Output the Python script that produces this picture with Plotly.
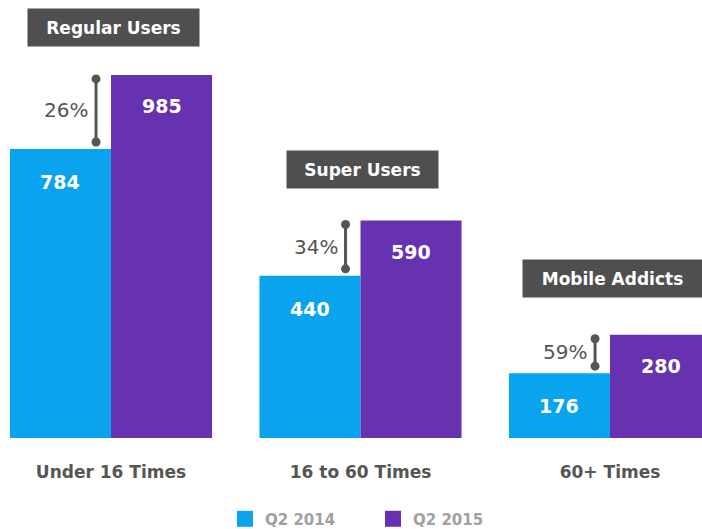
import plotly.graph_objects as go

categories = ["Under 16 Times", "16 to 60 Times", "60+ Times"]
group_labels = ["Regular Users", "Super Users", "Mobile Addicts"]
q2_2014 = [784, 440, 176]
q2_2015 = [985, 590, 280]
growth = ["26%", "34%", "59%"]
series_names = ["Q2 2014", "Q2 2015"]

BLUE = "#0AA3EE"
PURPLE = "#6632B0"
DARK = "#4F4F4F"
GRAY_TXT = "#555555"
FONT = "DejaVu Sans"

x = list(range(len(categories)))
fig = go.Figure()
fig.add_trace(go.Bar(x=x, y=q2_2014, marker=dict(color=BLUE, line=dict(width=0)),
                     name=series_names[0], showlegend=False))
fig.add_trace(go.Bar(x=x, y=q2_2015, marker=dict(color=PURPLE, line=dict(width=0)),
                     name=series_names[1], showlegend=False))

# legend proxies
for nm, col in zip(series_names, [BLUE, PURPLE]):
    fig.add_trace(go.Scatter(x=[None], y=[None], mode="markers", name=nm,
                             marker=dict(symbol="square", size=16, color=col)))

px_per_unit = 0.3686
for i in x:
    lo = q2_2014[i] + 7 / px_per_unit
    hi = q2_2015[i] - 4 / px_per_unit
    fig.add_trace(go.Scatter(x=[i - 0.06, i - 0.06], y=[lo, hi], mode="lines+markers",
                             line=dict(color=GRAY_TXT, width=3),
                             marker=dict(size=9, color=GRAY_TXT), showlegend=False,
                             hoverinfo="skip"))
    fig.add_annotation(x=i - 0.06, y=(lo + hi) / 2, text=growth[i], showarrow=False,
                       xanchor="right", yanchor="middle", xshift=-6,
                       font=dict(family=FONT, size=20, color=GRAY_TXT))
    fig.add_annotation(x=i - 0.2025, y=q2_2014[i], text=str(q2_2014[i]), showarrow=False,
                       yanchor="middle", yshift=-33,
                       font=dict(family=FONT, size=19, color="white", weight="bold"))
    fig.add_annotation(x=i + 0.2025, y=q2_2015[i], text=str(q2_2015[i]), showarrow=False,
                       yanchor="middle", yshift=-31,
                       font=dict(family=FONT, size=19, color="white", weight="bold"))

box_gaps = [47, 51, 56]
box_widths = [171, 151, 179]
for i in x:
    fig.add_annotation(x=i, y=q2_2015[i], text=group_labels[i], showarrow=False,
                       yanchor="middle", yshift=box_gaps[i], xshift=2,
                       bgcolor=DARK, borderpad=0, width=box_widths[i], height=37,
                       font=dict(family=FONT, size=17, color="white", weight="bold"))

fig.update_layout(
    width=702, height=529,
    margin=dict(l=0, r=0, t=0, b=91, autoexpand=False),
    paper_bgcolor="white", plot_bgcolor="white",
    barmode="group", bargap=0.19, bargroupgap=0,
    xaxis=dict(range=[-0.4449, 2.3687], tickvals=x, ticktext=categories,
               showgrid=False, zeroline=False, showline=False, ticks="",
               ticklabelstandoff=22, automargin=False,
               tickfont=dict(family=FONT, size=17, color=GRAY_TXT, weight="bold")),
    yaxis=dict(range=[0, 438 / px_per_unit], visible=False, automargin=False),
    legend=dict(orientation="h", x=225 / 702, xanchor="left", y=-0.185, yanchor="middle",
                font=dict(family=FONT, size=15, color="#A0A0A0", weight="bold"),
                entrywidth=103, entrywidthmode="pixels",
                itemwidth=30, tracegroupgap=0),
    font=dict(family=FONT),
)

fig.write_html("out.html")
